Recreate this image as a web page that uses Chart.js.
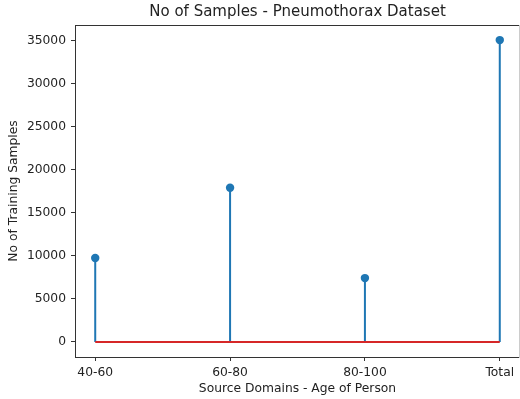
<!DOCTYPE html>
<html>
<head>
<meta charset="utf-8">
<script src="https://cdn.jsdelivr.net/npm/chart.js@4"></script>
<style>
  html, body { margin: 0; padding: 0; background: #fff; }
  canvas { display: block; }
</style>
</head>
<body>
<canvas id="stemChart" width="520" height="399"></canvas>
<script>
// data
const domains = ['40-60', '60-80', '80-100', 'Total'];
const samples = [9740, 17890, 7410, 35040];
const yTicks = [0, 5000, 10000, 15000, 20000, 25000, 30000, 35000];
const chartTitle = 'No of Samples - Pneumothorax Dataset';

const colors = {
  stem: '#1f77b4',
  base: '#d62728',
  axis: '#333',
  text: '#222'
};

const font = 'DejaVu Sans';
const yTop = Math.max(...samples) * 1.05;
const yBottom = -Math.max(...samples) * 0.05;

// stem lines: (i,0) -> (i,v), broken by null gaps
const stemPoints = samples.flatMap((v, i) => [{ x: i, y: 0 }, { x: i, y: v }, { x: i, y: null }]);
const markerPoints = samples.map((v, i) => ({ x: i, y: v }));
const basePoints = [{ x: 0, y: 0 }, { x: domains.length - 1, y: 0 }];

// top + right spines like matplotlib (right one sits on the canvas edge, faint)
const boxPlugin = {
  id: 'box',
  afterDraw(chart) {
    const { ctx, chartArea: a } = chart;
    ctx.save();
    ctx.lineWidth = 1;
    ctx.strokeStyle = colors.axis;
    ctx.beginPath();
    ctx.moveTo(Math.round(a.left) + 0.5, Math.round(a.top) + 0.5);
    ctx.lineTo(Math.round(a.right) - 1, Math.round(a.top) + 0.5);
    ctx.stroke();
    ctx.strokeStyle = '#ccc';
    ctx.beginPath();
    ctx.moveTo(Math.round(a.right) - 0.5, Math.round(a.top));
    ctx.lineTo(Math.round(a.right) - 0.5, Math.round(a.bottom) + 1);
    ctx.stroke();
    ctx.restore();
  }
};

// title centred over the plot area, not the canvas
const titlePlugin = {
  id: 'axTitle',
  afterDraw(chart) {
    const { ctx, chartArea: a } = chart;
    ctx.save();
    ctx.fillStyle = colors.text;
    ctx.font = '15px "' + font + '"';
    ctx.textAlign = 'center';
    ctx.textBaseline = 'middle';
    ctx.fillText(chartTitle, (a.left + a.right) / 2, 12.5);
    ctx.restore();
  }
};

const bgPlugin = {
  id: 'bg',
  beforeDraw(chart) {
    const { ctx, width, height } = chart;
    ctx.save();
    ctx.fillStyle = '#fff';
    ctx.fillRect(0, 0, width, height);
    ctx.restore();
  }
};

new Chart(document.getElementById('stemChart'), {
  type: 'scatter',
  data: {
    datasets: [
      {
        label: 'baseline',
        data: basePoints,
        showLine: true,
        borderColor: colors.base,
        borderWidth: 2,
        pointRadius: 0
      },
      {
        label: 'markers',
        data: markerPoints,
        showLine: false,
        backgroundColor: colors.stem,
        borderColor: colors.stem,
        borderWidth: 0,
        pointRadius: 4.2
      },
      {
        label: 'stems',
        data: stemPoints,
        showLine: true,
        spanGaps: false,
        borderColor: colors.stem,
        borderWidth: 2,
        pointRadius: 0
      }
    ]
  },
  options: {
    responsive: false,
    animation: false,
    events: [],
    layout: { autoPadding: false, padding: { left: 0, right: 0, top: 25, bottom: 0 } },
    plugins: {
      legend: { display: false },
      tooltip: { enabled: false },
      title: { display: false }
    },
    scales: {
      x: {
        type: 'linear',
        min: -0.15,
        max: domains.length - 1 + 0.15,
        afterBuildTicks(scale) {
          scale.ticks = domains.map((d, i) => ({ value: i }));
        },
        afterFit(scale) {
          scale.height = 42;
          scale.paddingLeft = 0;
          scale.paddingRight = 0;
        },
        ticks: {
          color: colors.text,
          font: { family: font, size: 12.3 },
          padding: 4,
          maxRotation: 0,
          autoSkip: false,
          callback: (v) => domains[v]
        },
        grid: {
          drawOnChartArea: false,
          drawTicks: true,
          tickLength: 4,
          tickColor: colors.axis
        },
        border: { color: colors.axis, width: 1 },
        title: {
          display: true,
          text: 'Source Domains - Age of Person',
          color: colors.text,
          font: { family: font, size: 12.3 },
          padding: { top: 0, bottom: 3 }
        }
      },
      y: {
        min: yBottom,
        max: yTop,
        afterBuildTicks(scale) {
          scale.ticks = yTicks.map(v => ({ value: v }));
        },
        afterFit(scale) {
          scale.width = 75;
          scale.paddingTop = 0;
          scale.paddingBottom = 0;
        },
        ticks: {
          color: colors.text,
          font: { family: font, size: 12.3 },
          padding: 5,
          callback: (v) => String(v)
        },
        grid: {
          drawOnChartArea: false,
          drawTicks: true,
          tickLength: 4,
          tickColor: colors.axis
        },
        border: { color: colors.axis, width: 1 },
        title: {
          display: true,
          text: 'No of Training Samples',
          color: colors.text,
          font: { family: font, size: 12.3 },
          padding: { top: 6, bottom: 0 }
        }
      }
    }
  },
  plugins: [bgPlugin, boxPlugin, titlePlugin]
});
</script>
</body>
</html>
